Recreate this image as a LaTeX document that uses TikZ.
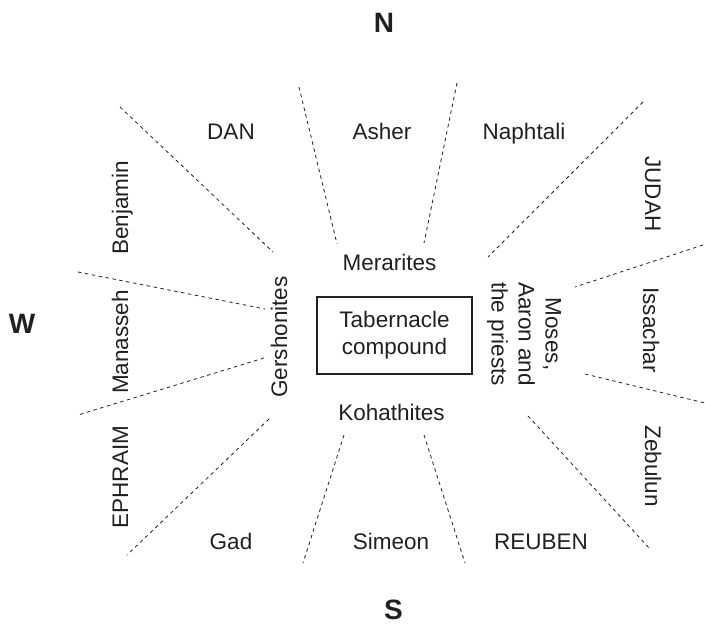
\documentclass[tikz,border=0pt]{standalone}
\usepackage{fontspec}
\setmainfont{Liberation Sans}
\usepackage{tikz}
\usetikzlibrary{positioning}
\definecolor{ink}{RGB}{35,31,32}

\begin{document}
\begin{tikzpicture}[x=1pt, y=-1pt,
    every node/.style={text=ink, font=\fontsize{22.5}{27}\selectfont, inner sep=0pt},
    tribe/.style={anchor=base},
    compass/.style={anchor=base, font=\fontsize{28}{30}\selectfont\bfseries},
    divider/.style={draw=ink, line width=0.8pt, dash pattern=on 3.5pt off 3.5pt}]
    \useasboundingbox (0,0) rectangle (705,624);
    % compass points
    \node[compass] (north) at (384, 32) {N};
    \node[compass] (west) at (22, 333) {W};
    \node[compass] (south) at (393.5, 619) {S};
    % tabernacle and levites
    \node[draw=ink, line width=1.5pt, minimum width=155pt, minimum height=77pt, align=center] (tabernacle) at (394.5, 335.5) {Tabernacle\\compound};
    \node[tribe] (merarites) at (389.5, 270) {Merarites};
    \node[tribe] (kohathites) at (391.5, 420) {Kohathites};
    \node[tribe, rotate=90] (gershonites) at (287, 337) {Gershonites};
    \node[rotate=-90, align=center] (priests) at (524, 334) {Moses,\\Aaron and\\the priests};
    % the twelve tribes
    \node[tribe] (dan) at (231, 139) {DAN};
    \node[tribe] (asher) at (382, 139) {Asher};
    \node[tribe] (naphtali) at (524, 139) {Naphtali};
    \node[tribe, rotate=-90] (judah) at (645, 194) {JUDAH};
    \node[tribe, rotate=-90] (issachar) at (643, 330) {Issachar};
    \node[tribe, rotate=-90] (zebulun) at (645, 466) {Zebulun};
    \node[tribe] (reuben) at (541, 549) {REUBEN};
    \node[tribe] (simeon) at (391, 549) {Simeon};
    \node[tribe] (gad) at (231, 549) {Gad};
    \node[tribe, rotate=90] (ephraim) at (128, 477) {EPHRAIM};
    \node[tribe, rotate=90] (manasseh) at (128, 342) {Manasseh};
    \node[tribe, rotate=90] (benjamin) at (128, 208) {Benjamin};
    % dividing lines
    \foreach \xa/\ya/\xb/\yb in {120/107/273/252, 299/87/337/244, 457/83/424/243,
        643/102/488/257, 703/245/575/287, 585/374/705/403, 528/416/650/549,
        424/435/465/563, 344/435/303/563, 269/419/127/555, 264/358/78/415,
        78/272/265/309} {
        \draw[divider] (\xa, \ya) -- (\xb, \yb);
    }
\end{tikzpicture}
\end{document}
